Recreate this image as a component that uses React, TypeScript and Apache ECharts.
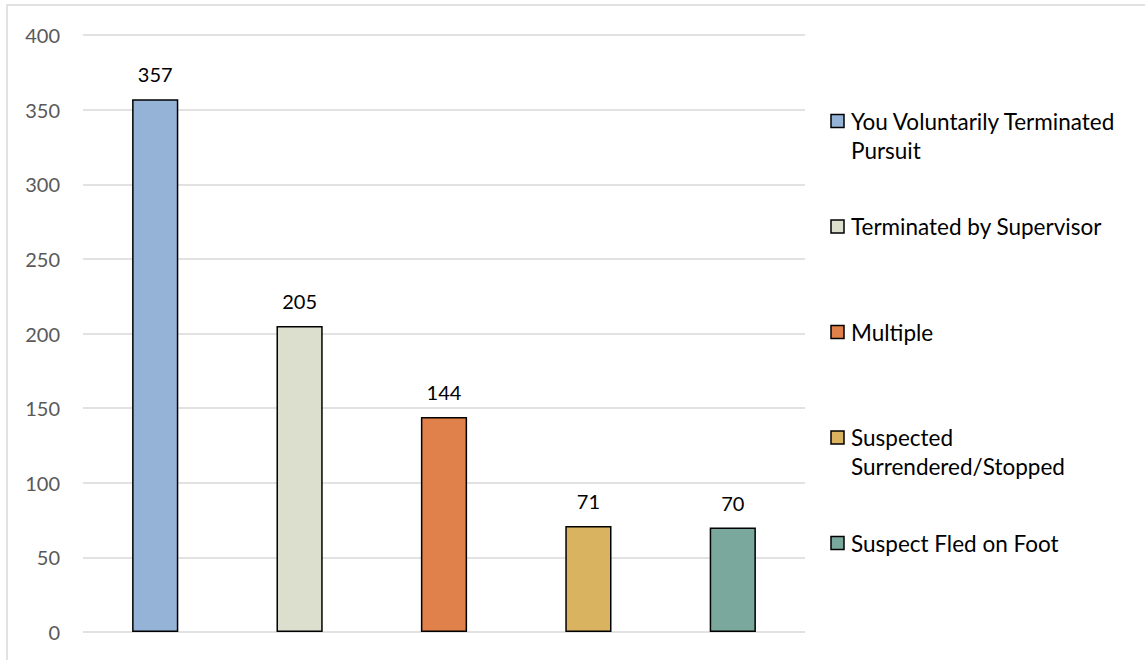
import React, { useEffect, useRef } from "react";
import * as echarts from "echarts";

// Pursuit termination reasons and counts
const categories = [
  "You Voluntarily Terminated Pursuit",
  "Terminated by Supervisor",
  "Multiple",
  "Suspected Surrendered/Stopped",
  "Suspect Fled on Foot",
];
const legendLabels = [
  "You Voluntarily Terminated\nPursuit",
  "Terminated by Supervisor",
  "Multiple",
  "Suspected\nSurrendered/Stopped",
  "Suspect Fled on Foot",
];
const values = [357, 205, 144, 71, 70];
const barColors = ["#95B3D7", "#DDDFCE", "#E0804A", "#D9B35F", "#7BA89D"];

const Y_MIN = 0;
const Y_MAX = 400;
const Y_STEP = 50;

const FONT = "Lato, 'Open Sans', sans-serif";

export default function App() {
  const ref = useRef<HTMLDivElement>(null);

  useEffect(() => {
    if (!ref.current) return;
    const chart = echarts.init(ref.current, undefined, { renderer: "svg" });

    const legendTop = 121;
    const legendGap = 105.5;
    const lineH = 29;
    const legendItems: any[] = [];
    legendLabels.forEach((name, i) => {
      const cy = legendTop + i * legendGap;
      legendItems.push({
        type: "rect",
        shape: { x: 831, y: cy - 6.5, width: 13, height: 13 },
        style: { fill: barColors[i], stroke: "#000", lineWidth: 1.5 },
      });
      legendItems.push({
        type: "text",
        x: 851,
        y: cy - lineH / 2,
        style: {
          text: name,
          fill: "#000",
          font: `22.5px ${FONT}`,
          lineHeight: lineH,
          verticalAlign: "top",
          align: "left",
        },
      });
    });

    chart.setOption({
      animation: false,
      backgroundColor: "#fff",
      grid: { left: 83, right: 340, top: 35, bottom: 28, containLabel: false },
      xAxis: {
        type: "category",
        data: categories,
        axisLabel: { show: false },
        axisTick: { show: false },
        axisLine: { show: false },
      },
      yAxis: {
        type: "value",
        min: Y_MIN,
        max: Y_MAX,
        interval: Y_STEP,
        axisLine: { show: false },
        axisTick: { show: false },
        axisLabel: { color: "#595959", fontSize: 20, fontFamily: FONT, margin: 23 },
        splitLine: { lineStyle: { color: "#D9D9D9", width: 1.5 } },
      },
      series: [
        {
          type: "bar",
          barWidth: "32%",
          data: values.map((v, i) => ({
            value: v,
            itemStyle: { color: barColors[i], borderColor: "#000", borderWidth: 1.5 },
          })),
          label: {
            show: true,
            position: "top",
            distance: 15,
            color: "#000",
            fontSize: 20,
            fontFamily: FONT,
          },
        },
      ],
      graphic: [
        {
          type: "rect",
          silent: true,
          shape: { x: 7, y: 5, width: 1300, height: 800 },
          style: { fill: "none", stroke: "#D9D9D9", lineWidth: 1.5 },
        },
        ...legendItems,
      ],
    });

    return () => chart.dispose();
  }, []);

  return (
    <div
      ref={ref}
      style={{ position: "absolute", left: 0, top: 0, width: 1145, height: 660 }}
    />
  );
}
